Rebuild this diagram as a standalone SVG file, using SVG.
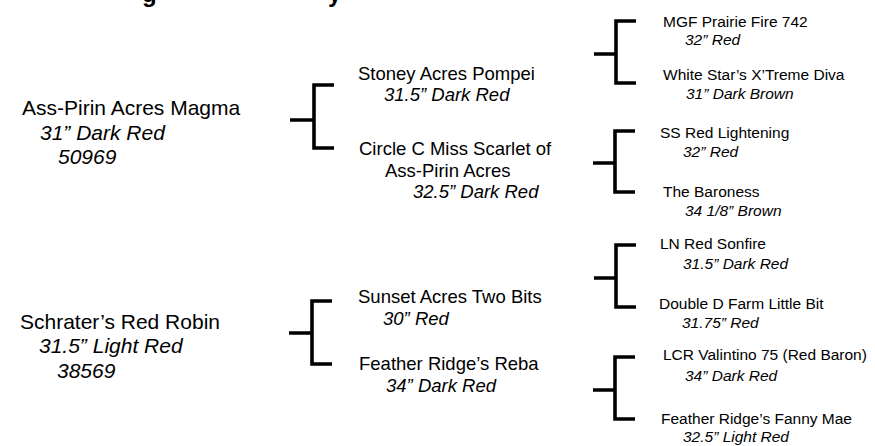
<svg xmlns="http://www.w3.org/2000/svg" width="875" height="446" viewBox="0 0 875 446">
<style>
text{font-family:"Liberation Sans",Arial,sans-serif;fill:#000}
.l1{font-size:21px}
.l2{font-size:18.5px}
.l3{font-size:15.5px}
.it{font-style:italic}
.title{font-size:24px;font-weight:bold}
.br{fill:none;stroke:#000;stroke-width:3.6;stroke-linejoin:miter;stroke-linecap:butt}
</style>
<rect width="875" height="446" fill="#fff"/>
<g id="title-fragment">
<text class="title" x="142" y="2">g</text>
<text class="title" x="328" y="2">y</text>
</g>
<g id="connectors">
<path class="br" d="M334 85H314V148H334M290 120H314"/>
<path class="br" d="M332 301H312V364H332M289 333H312"/>
<path class="br" d="M636 21H616V83H636M594 54H616"/>
<path class="br" d="M635 131H615V192H635M593 163H615"/>
<path class="br" d="M636 245H616V307H636M594 278H616"/>
<path class="br" d="M635 357H615V419H635M593 390H615"/>
</g>
<g id="magma">
<text class="l1" x="22" y="115">Ass-Pirin Acres Magma</text>
<text class="l1 it" x="40" y="140">31” Dark Red</text>
<text class="l1 it" x="58" y="164">50969</text>
</g>
<g id="robin">
<text class="l1" x="20" y="329">Schrater’s Red Robin</text>
<text class="l1 it" x="39" y="353">31.5” Light Red</text>
<text class="l1 it" x="57" y="378">38569</text>
</g>
<g id="pompei">
<text class="l2" x="358" y="80">Stoney Acres Pompei</text>
<text class="l2 it" x="384" y="101">31.5” Dark Red</text>
</g>
<g id="scarlet">
<text class="l2" x="359" y="155">Circle C Miss Scarlet of</text>
<text class="l2" x="385" y="177">Ass-Pirin Acres</text>
<text class="l2 it" x="413" y="198">32.5” Dark Red</text>
</g>
<g id="twobits">
<text class="l2" x="358" y="303">Sunset Acres Two Bits</text>
<text class="l2 it" x="383" y="325">30” Red</text>
</g>
<g id="reba">
<text class="l2" x="359" y="370">Feather Ridge’s Reba</text>
<text class="l2 it" x="386" y="392">34” Dark Red</text>
</g>
<g id="prairiefire">
<text class="l3" x="663" y="27">MGF Prairie Fire 742</text>
<text class="l3 it" x="685" y="45">32” Red</text>
</g>
<g id="diva">
<text class="l3" x="663" y="80">White Star’s X’Treme Diva</text>
<text class="l3 it" x="686" y="99">31” Dark Brown</text>
</g>
<g id="lightening">
<text class="l3" x="660" y="138">SS Red Lightening</text>
<text class="l3 it" x="683" y="157">32” Red</text>
</g>
<g id="baroness">
<text class="l3" x="663" y="197">The Baroness</text>
<text class="l3 it" x="685" y="216">34 1/8” Brown</text>
</g>
<g id="sonfire">
<text class="l3" x="660" y="249">LN Red Sonfire</text>
<text class="l3 it" x="683" y="269">31.5” Dark Red</text>
</g>
<g id="littlebit">
<text class="l3" x="659" y="309">Double D Farm Little Bit</text>
<text class="l3 it" x="682" y="328">31.75” Red</text>
</g>
<g id="valintino">
<text class="l3" x="663" y="360">LCR Valintino 75 (Red Baron)</text>
<text class="l3 it" x="685" y="381">34” Dark Red</text>
</g>
<g id="fannymae">
<text class="l3" x="661" y="424">Feather Ridge’s Fanny Mae</text>
<text class="l3 it" x="683" y="442">32.5” Light Red</text>
</g>
</svg>
